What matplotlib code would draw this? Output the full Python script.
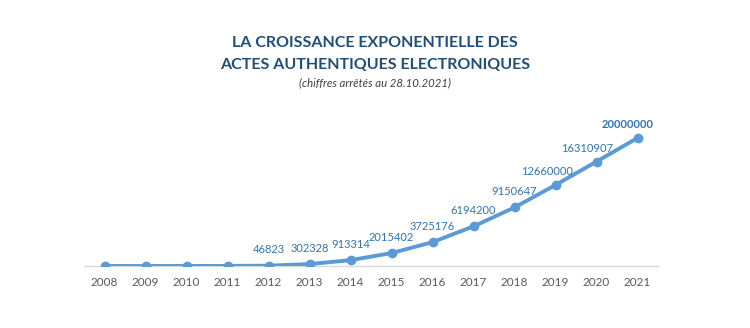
import matplotlib.pyplot as plt

# données
annees = [2008, 2009, 2010, 2011, 2012, 2013, 2014, 2015, 2016, 2017, 2018, 2019, 2020, 2021]
actes = [300, 2000, 6000, 15000, 46823, 302328, 913314, 2015402, 3725176,
         6194200, 9150647, 12660000, 16310907, 20000000]
etiquettes = ["", "", "", "", "46823", "302328", "913314", "2015402", "3725176",
              "6194200", "9150647", "12660000", "16310907", "20000000"]

# décalage des étiquettes (en points) pour les dernières années
decalage = {2019: (-6, 9.5), 2020: (-6.5, 9.5), 2021: (-7, 9.5)}

plt.rcParams['font.family'] = ['Lato', 'DejaVu Sans']

fig = plt.figure(figsize=(7.5, 3.28), dpi=100)
ax = fig.add_axes([84 / 750, 62 / 328, (658 - 84) / 750, (266 - 100) / 328])

ax.plot(annees, actes, color="#5B9BD5", lw=2.8, marker="o", ms=6, zorder=3)

for a, v, t in zip(annees, actes, etiquettes):
    if not t:
        continue
    dx, dy = decalage.get(a, (0, 11.5))
    ax.annotate(t, (a, v), xytext=(dx, dy), textcoords="offset points",
                ha="center", va="center", fontsize=8, color="#2E75B6",
                fontweight="bold" if a == 2021 else "normal")

ax.set_xlim(2007.5, 2021.5)
ax.set_ylim(0, 25.94e6)
ax.set_xticks(annees)
ax.set_xticklabels([str(a) for a in annees], fontsize=8.5, color="#595959")
ax.set_yticks([])
ax.tick_params(axis="x", length=0, pad=8)
for s in ["top", "right", "left"]:
    ax.spines[s].set_visible(False)
ax.spines["bottom"].set_color("#D9D9D9")
ax.spines["bottom"].set_linewidth(1)

fig.text(0.5, 1 - 43 / 328, "LA CROISSANCE EXPONENTIELLE DES", ha="center", va="center",
         fontsize=11.5, fontweight="bold", color="#1F4E79")
fig.text(0.5, 1 - 65 / 328, "ACTES AUTHENTIQUES ELECTRONIQUES", ha="center", va="center",
         fontsize=11.5, fontweight="bold", color="#1F4E79")
fig.text(0.5, 1 - 83 / 328, "(chiffres arrêtés au 28.10.2021)", ha="center", va="center",
         fontsize=8.2, style="italic", color="#404040")

fig.savefig("out.png", dpi=100, facecolor="white")
